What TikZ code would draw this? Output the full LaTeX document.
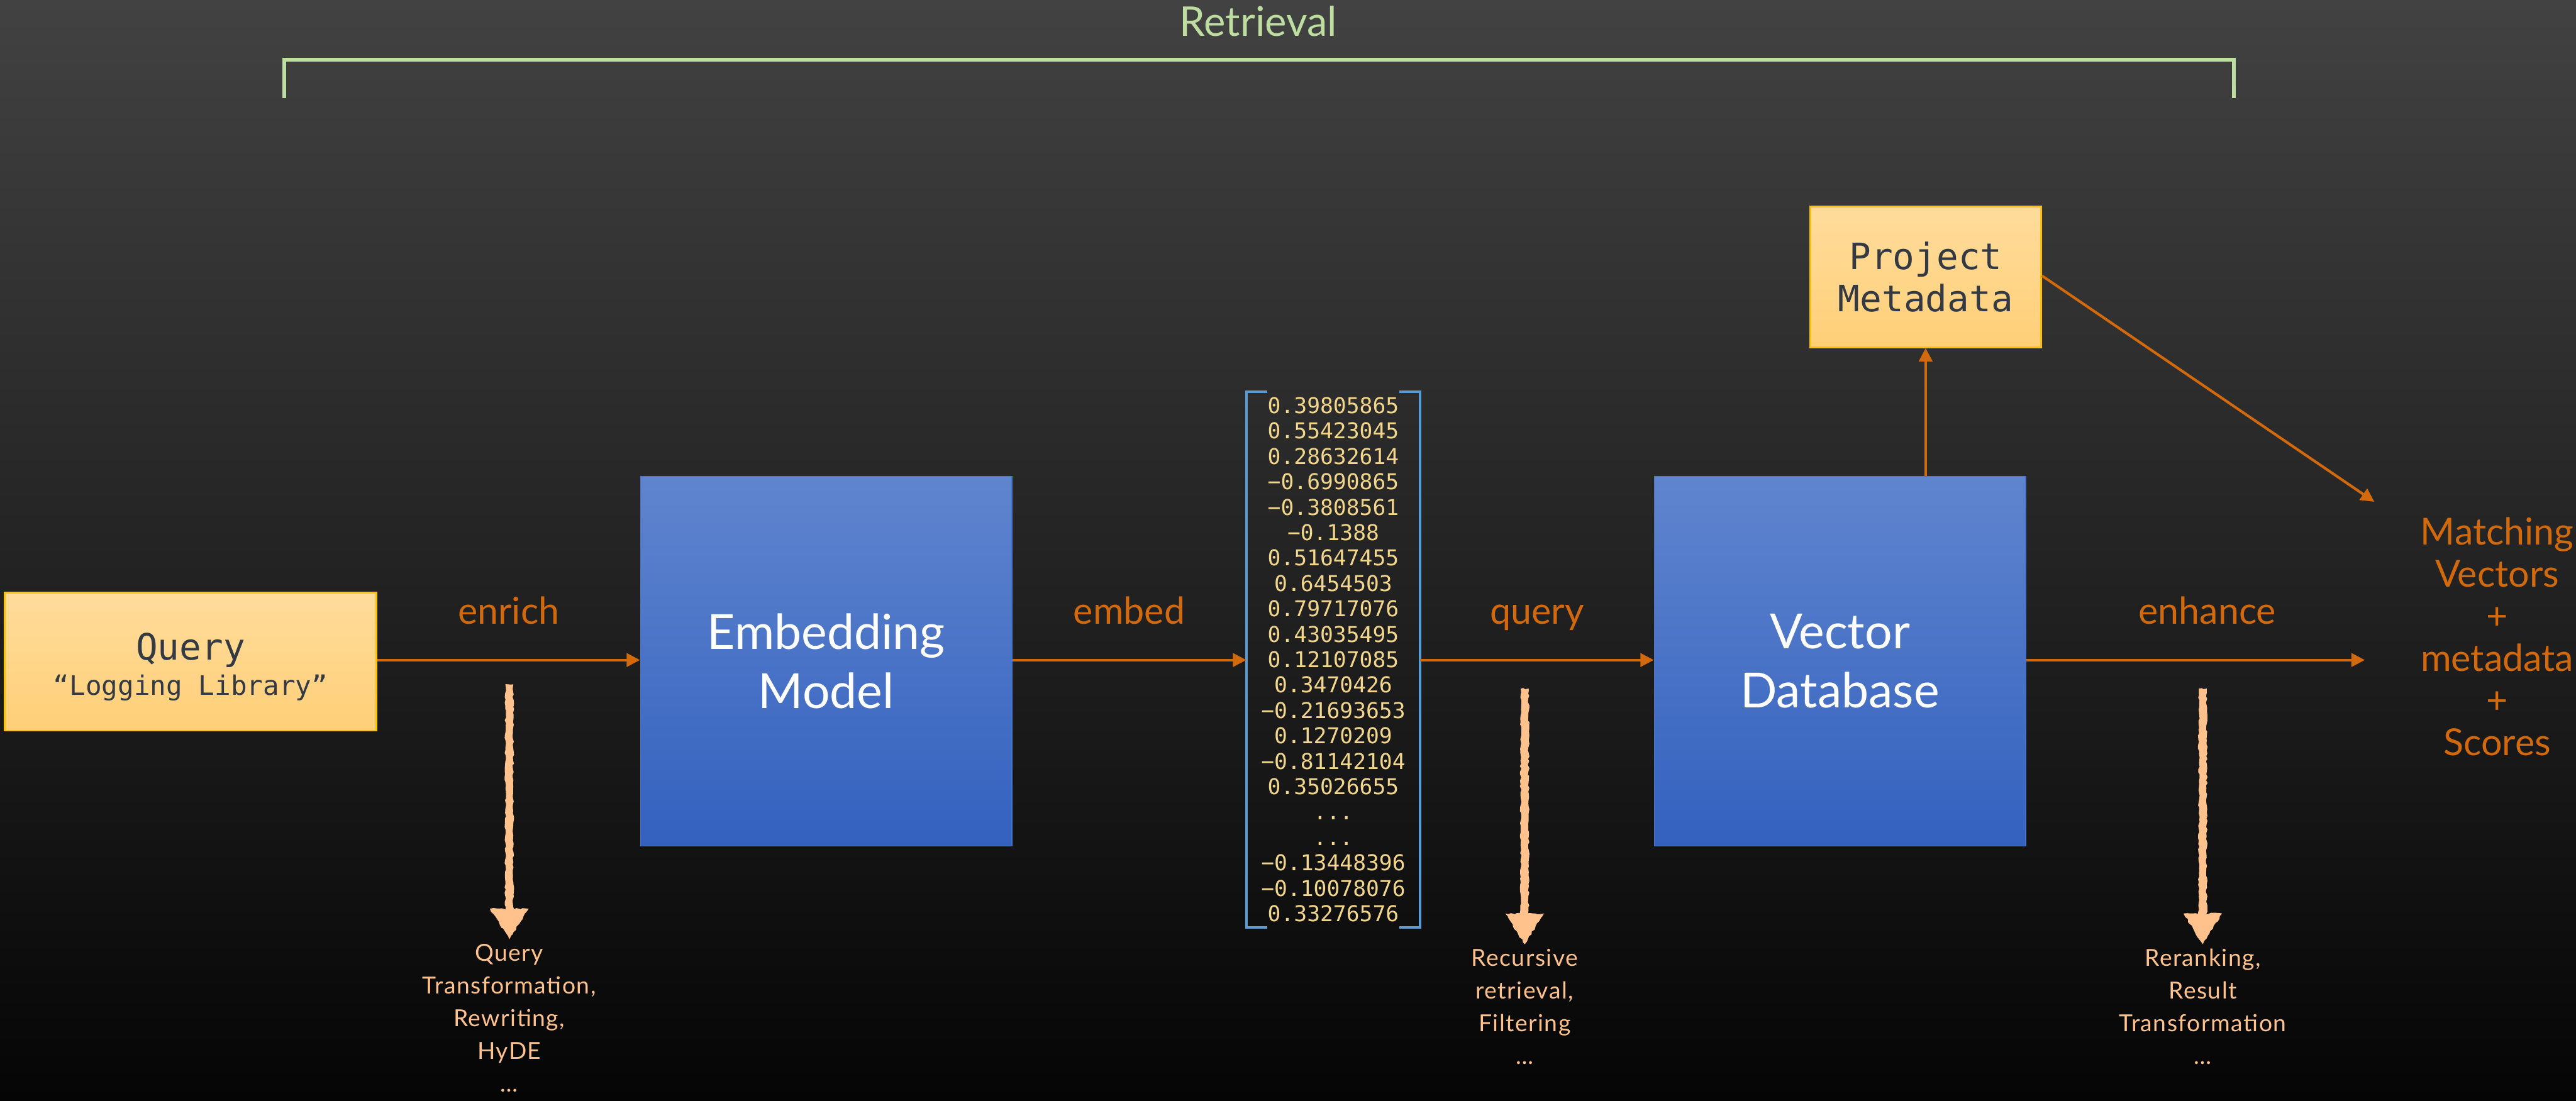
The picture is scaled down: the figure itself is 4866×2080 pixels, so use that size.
\documentclass[tikz,border=0pt]{standalone}
\usepackage{fontspec}
\setmainfont{Lato}
\newfontfamily\monof{DejaVu Sans Mono}
\newfontfamily\chalkf[LetterSpace=4]{Lato}
\usetikzlibrary{arrows.meta,shadings,decorations.pathmorphing,calc}

\definecolor{bgtop}{HTML}{424242}
\definecolor{bgbot}{HTML}{050505}
\definecolor{flowc}{HTML}{D2690C}
\definecolor{chalkc}{HTML}{FFC28C}
\definecolor{retc}{HTML}{BEDDA0}
\definecolor{vecc}{HTML}{F2D68C}
\definecolor{brk}{HTML}{5B9BD5}
\definecolor{bluetop}{HTML}{6085CF}
\definecolor{bluebot}{HTML}{3361BE}
\definecolor{blueline}{HTML}{4A74C6}
\definecolor{ytop}{HTML}{FFDC9C}
\definecolor{ybot}{HTML}{FFCF78}
\definecolor{yline}{HTML}{FFC000}
\definecolor{inkc}{HTML}{343A44}

\tikzset{
  bluebox/.style={rectangle, draw=blueline, line width=0.5pt,
    top color=bluetop, bottom color=bluebot, text=white,
    minimum width=7.01cm, minimum height=6.98cm, align=center,
    font=\fontsize{26}{32}\selectfont, inner sep=0pt},
  notebox/.style={rectangle, draw=yline, line width=0.9pt,
    top color=ytop, bottom color=ybot, text=inkc, align=center,
    inner sep=0pt},
  flow/.style={draw=flowc, line width=1.4pt,
    -{Triangle[length=7.2pt,width=7.2pt]}},
  flowlabel/.style={text=flowc, font=\fontsize{20}{24}\selectfont,
    anchor=base, yshift=19.3pt},
  chalk/.style={fill=chalkc, decorate,
    decoration={random steps, segment length=1.6pt, amplitude=0.45pt}},
  chalktext/.style={text=chalkc, align=center, inner sep=0pt,
    font=\chalkf\fontsize{12.6}{17.6}\selectfont},
}

% hand-drawn downward arrow: #1 top of the shaft, #2 tip
\newcommand\chalkarrow[2]{%
  \fill[chalk] ($(#1)+(-7.5,0)$) rectangle ($(#2)+(7.5,-52)$);
  \fill[chalk] ($(#2)+(-36.5,-58)$) -- ($(#2)+(36.5,-58)$) -- (#2) -- cycle;}

\begin{document}
\begin{tikzpicture}[x=0.01cm, y=-0.01cm]
  % backdrop
  \fill[top color=bgtop, bottom color=bgbot] (0,0) rectangle (4866,2080);
  \useasboundingbox (0,0) rectangle (4866,2080);

  % retrieval span
  \node[text=retc, font=\fontsize{22}{26}\selectfont] (ret) at (2377,40) {Retrieval};
  \coordinate (rl) at (537,185);
  \coordinate (rr) at (4220,185);
  \draw[retc, line width=2pt] (rl) -- (rl |- 0,113) -- (rr |- 0,113) -- (rr);

  % main pipeline
  \node[notebox, minimum width=7.02cm, minimum height=2.61cm] (query) at (360,1250)
    {\monof\fontsize{19.5}{22}\selectfont\rule{0pt}{20pt}Query\\[3pt]
     \monof\fontsize{14.4}{18}\selectfont “Logging Library”};
  \node[bluebox] (embed) at (1560.5,1249) {Embedding\\Model};

  \node[text=vecc, align=center, inner sep=0pt,
        minimum width=3.27cm, minimum height=10.1cm,
        font=\monof\fontsize{11.7}{13.65}\selectfont] (vec) at (2518.5,1246)
    {0.39805865\\0.55423045\\0.28632614\\−0.6990865\\−0.3808561\\−0.1388\\
     0.51647455\\0.6454503\\0.79717076\\0.43035495\\0.12107085\\0.3470426\\
     −0.21693653\\0.1270209\\−0.81142104\\0.35026655\\...\\...\\
     −0.13448396\\−0.10078076\\0.33276576};
  \draw[brk, line width=1.4pt]
    ($(vec.north west)+(40,0)$) -- (vec.north west) -- (vec.south west) -- ($(vec.south west)+(40,0)$);
  \draw[brk, line width=1.4pt]
    ($(vec.north east)+(-40,0)$) -- (vec.north east) -- (vec.south east) -- ($(vec.south east)+(-40,0)$);

  \node[bluebox] (vdb) at (3475.5,1249) {Vector\\Database};
  \node[notebox, minimum width=4.36cm, minimum height=2.66cm,
        font=\monof\fontsize{19.5}{22.8}\selectfont] (pm) at (3637.5,523)
    {Project\\Metadata};

  \node[text=flowc, align=center, font=\fontsize{20}{22.6}\selectfont] (result) at (4717,1203)
    {Matching\\Vectors\\+\\metadata\\+\\Scores};

  \coordinate (etip) at (4467,1249);
  \coordinate (mtip) at (4485,948);

  \draw[flow] (query.east |- 0,1247) -- (embed.west |- 0,1247)
    node[flowlabel, midway] (l1) {enrich};
  \draw[flow] (embed.east |- 0,1247) -- (vec.west |- 0,1247)
    node[flowlabel, midway] (l2) {embed};
  \draw[flow] (vec.east |- 0,1247) -- (vdb.west |- 0,1247)
    node[flowlabel, midway] (l3) {query};
  \draw[flow] (vdb.east |- 0,1247) -- (etip |- 0,1247)
    node[flowlabel, pos=0.535] (l4) {enhance};
  \draw[flow] (pm.south |- vdb.north) -- (pm.south);
  \draw[flow] (pm.east |- 0,521) -- (mtip);

  % refinement steps under each hop
  \coordinate (c1top) at (962,1293);  \coordinate (c1tip) at (962,1775);
  \coordinate (c2top) at (2880,1301); \coordinate (c2tip) at (2880,1784);
  \coordinate (c3top) at (4161,1301); \coordinate (c3tip) at (4161,1784);
  \chalkarrow{c1top}{c1tip}
  \chalkarrow{c2top}{c2tip}
  \chalkarrow{c3top}{c3tip}

  \node[chalktext, anchor=north] (t1) at ($(c1tip)+(0,8)$)
    {Query\\Transformation,\\Rewriting,\\HyDE\\…};
  \node[chalktext, anchor=north] (t2) at ($(c2tip)+(0,8)$)
    {Recursive\\retrieval,\\Filtering\\…};
  \node[chalktext, anchor=north] (t3) at ($(c3tip)+(0,8)$)
    {Reranking,\\Result\\Transformation\\…};
\end{tikzpicture}
\end{document}
